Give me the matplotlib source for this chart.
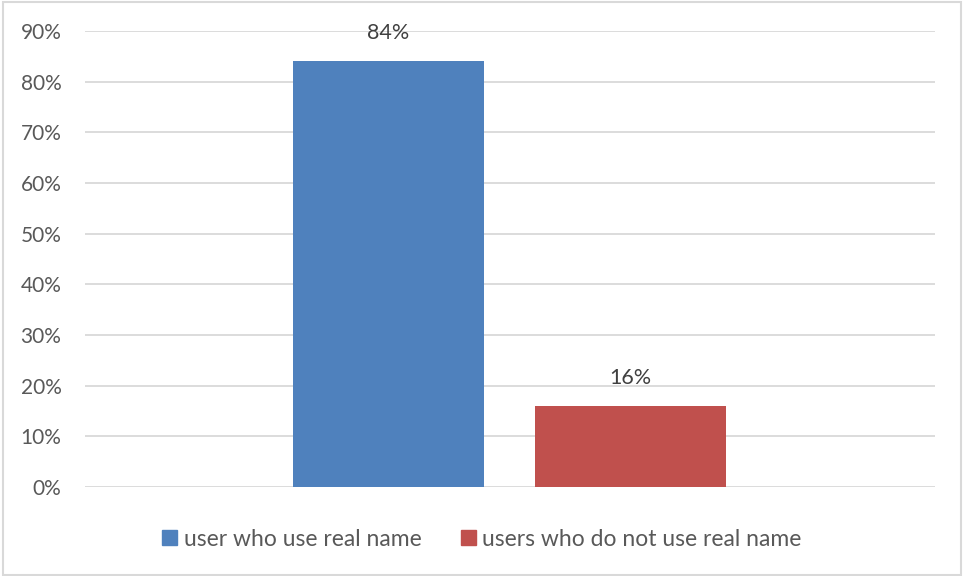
import matplotlib
matplotlib.use('Agg')
import matplotlib.pyplot as plt
from matplotlib.patches import Rectangle

# data
series = ['user who use real name', 'users who do not use real name']
values = [84, 16]          # percent
colors = ['#4F81BD', '#C0504D']
yticks = list(range(0, 100, 10))

plt.rcParams['font.family'] = ['Lato', 'DejaVu Sans']
txt = '#595959'

fig = plt.figure(figsize=(9.64, 5.76), dpi=100)
ax = fig.add_axes([85/964, 1-487/576, 850/964, 456/576])

centers = [0.357, 0.642]
width = 0.225
for x, v, c, lab in zip(centers, values, colors, series):
    ax.bar(x, v, width=width, color=c, label=lab, zorder=3)
    ax.annotate(f'{v}%', (x, v), xytext=(0, 13), textcoords='offset points',
                ha='center', va='bottom', fontsize=15.5, color='#404040')

ax.set_xlim(0, 1)
ax.set_ylim(0, 90)
ax.set_yticks(yticks)
ax.set_yticklabels([f'{t}%' for t in yticks])
ax.tick_params(axis='y', length=0, pad=17, labelsize=15, labelcolor=txt)
ax.set_xticks([])
ax.grid(axis='y', color='#D9D9D9', lw=1.3, zorder=0)
for s in ax.spines.values():
    s.set_visible(False)

handles = [Rectangle((0, 0), 1, 1, color=c) for c in colors]
fig.legend(handles, series, loc='center', bbox_to_anchor=(0.5, 1-539/576), ncol=2,
           frameon=False, fontsize=16.5, labelcolor=txt, handlelength=0.65,
           handleheight=0.65, handletextpad=0.3, columnspacing=1.7)

# outer border
fig.add_artist(Rectangle((0.003, 0.002), 0.994, 0.995, transform=fig.transFigure,
                         fill=False, edgecolor='#D9D9D9', lw=1.5))

fig.savefig('out.png', dpi=100)
